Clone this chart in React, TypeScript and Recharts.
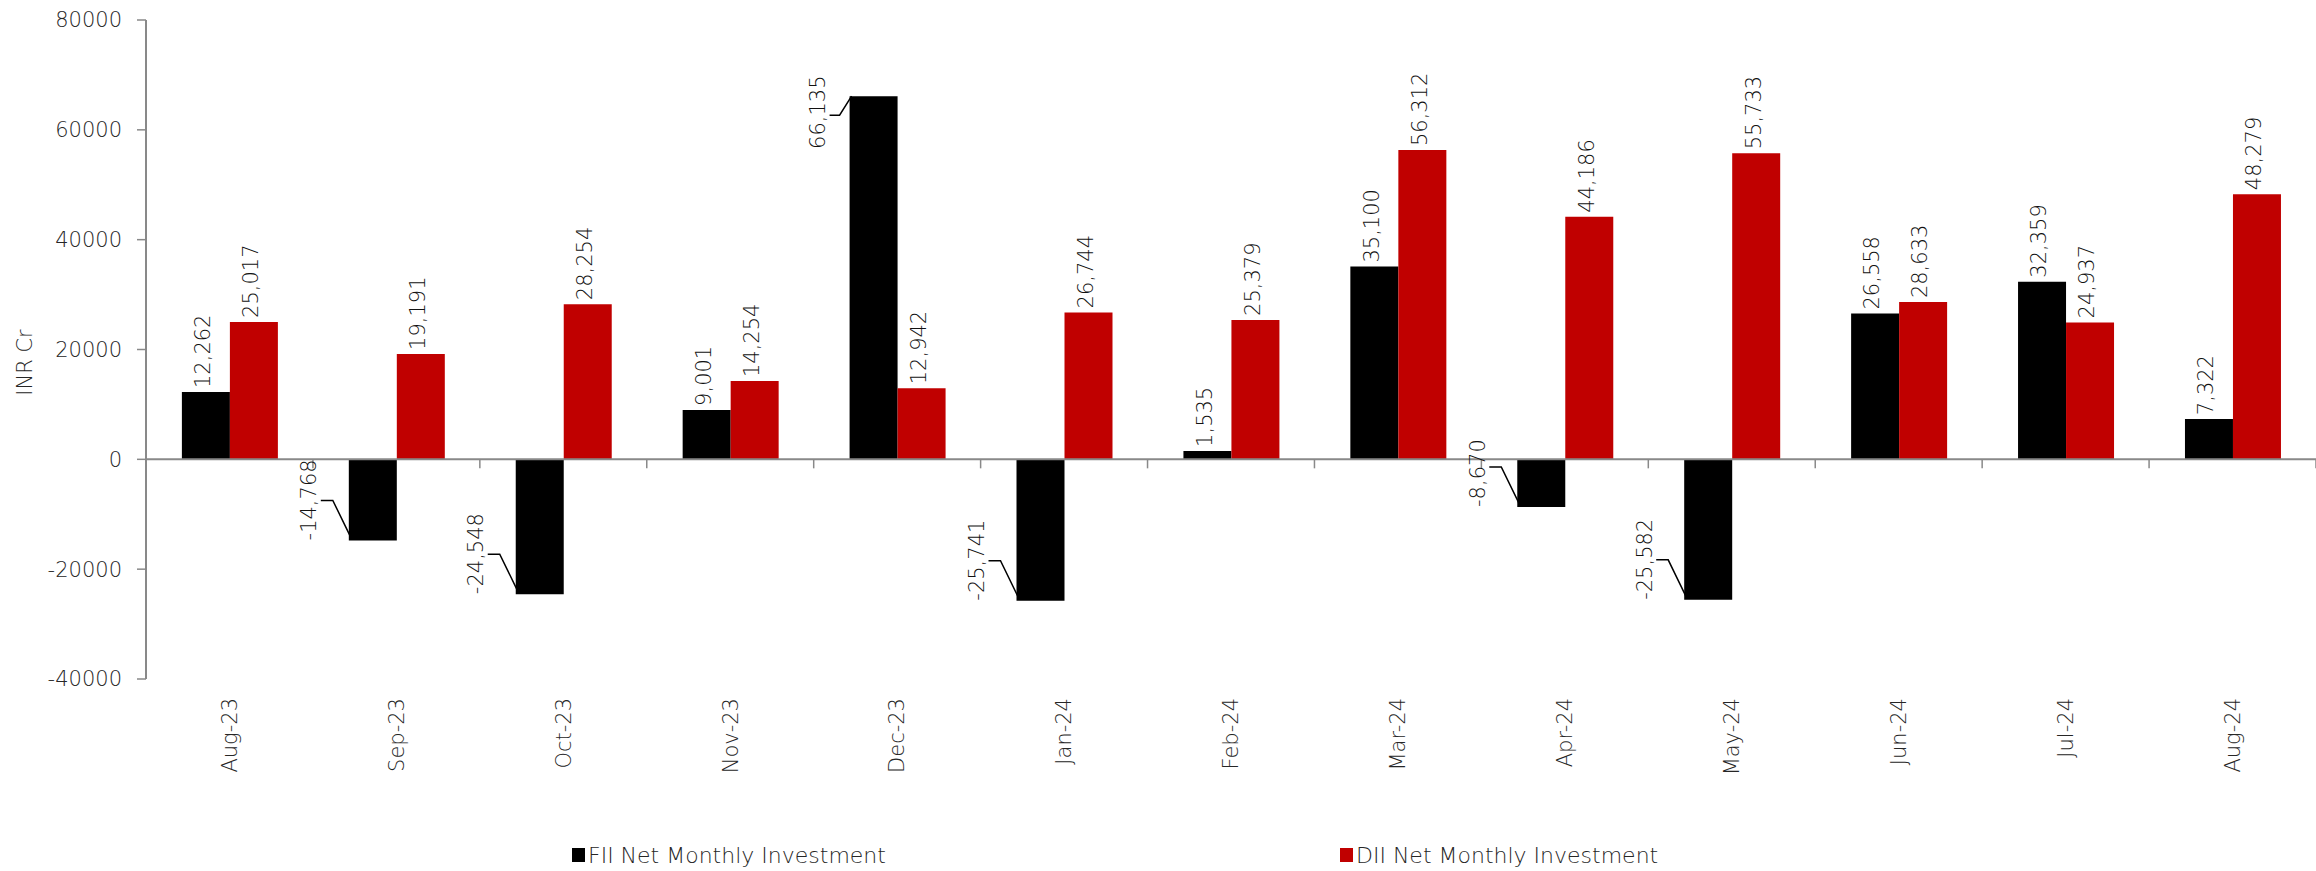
import React from "react";
import { BarChart, Bar, XAxis, YAxis, ReferenceLine, Legend, LabelList } from "recharts";

const months = ["Aug-23", "Sep-23", "Oct-23", "Nov-23", "Dec-23", "Jan-24", "Feb-24", "Mar-24", "Apr-24", "May-24", "Jun-24", "Jul-24", "Aug-24"];
const fiiNet = [12262, -14768, -24548, 9001, 66135, -25741, 1535, 35100, -8670, -25582, 26558, 32359, 7322];
const diiNet = [25017, 19191, 28254, 14254, 12942, 26744, 25379, 56312, 44186, 55733, 28633, 24937, 48279];
const yTicks = [-40000, -20000, 0, 20000, 40000, 60000, 80000];
const seriesNames = ["FII Net Monthly Investment", "DII Net Monthly Investment"];

const FONT = "'DejaVu Sans', sans-serif";
const AXIS = "#898989";
const TEXT = "#262626";
const colors = ["#000000", "#C00000"];

const data = months.map((m, i) => ({ month: m, fii: fiiNet[i], dii: diiNet[i] }));

const fmt = (v: number) => v.toLocaleString("en-US");

// value labels, rotated like the excel original
const ValueLabel = (props: any) => {
  const { x, y, width, height, value } = props;
  if (value == null) return null;
  const vy = value >= 0 ? Math.min(y, y + height) : Math.max(y, y + height);
  const cx = x + width / 2 - 3;
  const common = { fontFamily: FONT, fontSize: 21, fontWeight: 300, fill: "#111" };
  if (value < 0) {
    const lx = x - 40;
    return (
      <g>
        <path d={`M${lx + 12},${vy - 40} H${lx + 24} L${x + 2},${vy - 3}`} stroke="#000" strokeWidth={1.5} fill="none" />
        <text {...common} x={lx} y={vy} dy="0.35em" textAnchor="start" transform={`rotate(-90, ${lx}, ${vy})`}>
          {fmt(value)}
        </text>
      </g>
    );
  }
  if (value > 60000) {
    // too tall to fit above: put it beside the bar
    const lx = x - 32;
    const ly = vy + 16;
    return (
      <g>
        <path d={`M${lx + 12},${vy + 19} H${lx + 22} L${x + 2},${vy}`} stroke="#000" strokeWidth={1.5} fill="none" />
        <text {...common} x={lx} y={ly} dy="0.35em" textAnchor="middle" transform={`rotate(-90, ${lx}, ${ly})`}>
          {fmt(value)}
        </text>
      </g>
    );
  }
  return (
    <text {...common} x={cx} y={vy - 4} dy="0.35em" textAnchor="start" transform={`rotate(-90, ${cx}, ${vy - 4})`}>
      {fmt(value)}
    </text>
  );
};

const MonthTick = (props: any) => {
  const { x, y, payload } = props;
  return (
    <text x={x} y={y} dy="0.35em" textAnchor="end" fontFamily={FONT} fontSize={21} fontWeight={300} fill={TEXT} transform={`rotate(-90, ${x}, ${y})`}>
      {payload.value}
    </text>
  );
};

// zero line with the category tick marks hanging below it
const ZeroAxis = (props: any) => {
  const { x1, x2, y1 } = props;
  const step = (x2 - x1) / months.length;
  return (
    <g>
      <line x1={x1} x2={x2} y1={y1} y2={y1} stroke={AXIS} strokeWidth={2} />
      {months.map((_, i) => (
        <line key={i} x1={x1 + step * (i + 1)} x2={x1 + step * (i + 1)} y1={y1} y2={y1 + 9} stroke={AXIS} strokeWidth={1.5} />
      ))}
    </g>
  );
};

const LegendBox = () => (
  <div style={{ position: "relative", width: 2316, height: 30, fontFamily: FONT, fontSize: 22, fontWeight: 300, color: TEXT }}>
    {seriesNames.map((name, i) => (
      <div key={name} style={{ position: "absolute", left: i === 0 ? 572 : 1340, top: 0, height: 30, display: "flex", alignItems: "center", whiteSpace: "nowrap" }}>
        <span style={{ display: "inline-block", width: 13, height: 14, background: colors[i], marginRight: 3 }} />
        <span>{name}</span>
      </div>
    ))}
  </div>
);

export default function App() {
  return (
    <div style={{ position: "absolute", left: 0, top: 0, background: "#fff" }}>
      <BarChart width={2316} height={871} data={data} margin={{ top: 20, right: 0, left: 0, bottom: 0 }} barCategoryGap="21.5%" barGap={0}>
        <XAxis dataKey="month" axisLine={false} tickLine={false} interval={0} height={192} tickSize={0} tickMargin={19} tick={<MonthTick />} />
        <YAxis
          width={146}
          domain={[-40000, 80000]}
          ticks={yTicks}
          interval={0}
          axisLine={{ stroke: AXIS, strokeWidth: 2 }}
          tickLine={{ stroke: AXIS, strokeWidth: 1.5 }}
          tickSize={9}
          tickMargin={15}
          tick={{ fill: TEXT, fontSize: 21, fontFamily: FONT, fontWeight: 300 }}
          label={({ viewBox }: any) => {
            const cx = 25;
            const cy = viewBox.y + viewBox.height / 2 + 13;
            return (
              <text x={cx} y={cy} dy="0.35em" textAnchor="middle" fontFamily={FONT} fontSize={21} fontWeight={300} fill={TEXT} transform={`rotate(-90, ${cx}, ${cy})`}>
                INR Cr
              </text>
            );
          }}
        />
        <Legend verticalAlign="middle" align="center" content={<LegendBox />} wrapperStyle={{ left: 0, top: 840, width: 2316, height: 30 }} />
        <Bar dataKey="fii" name={seriesNames[0]} fill={colors[0]} isAnimationActive={false}>
          <LabelList dataKey="fii" content={<ValueLabel />} />
        </Bar>
        <Bar dataKey="dii" name={seriesNames[1]} fill={colors[1]} isAnimationActive={false}>
          <LabelList dataKey="dii" content={<ValueLabel />} />
        </Bar>
        <ReferenceLine y={0} shape={<ZeroAxis />} />
      </BarChart>
    </div>
  );
}
